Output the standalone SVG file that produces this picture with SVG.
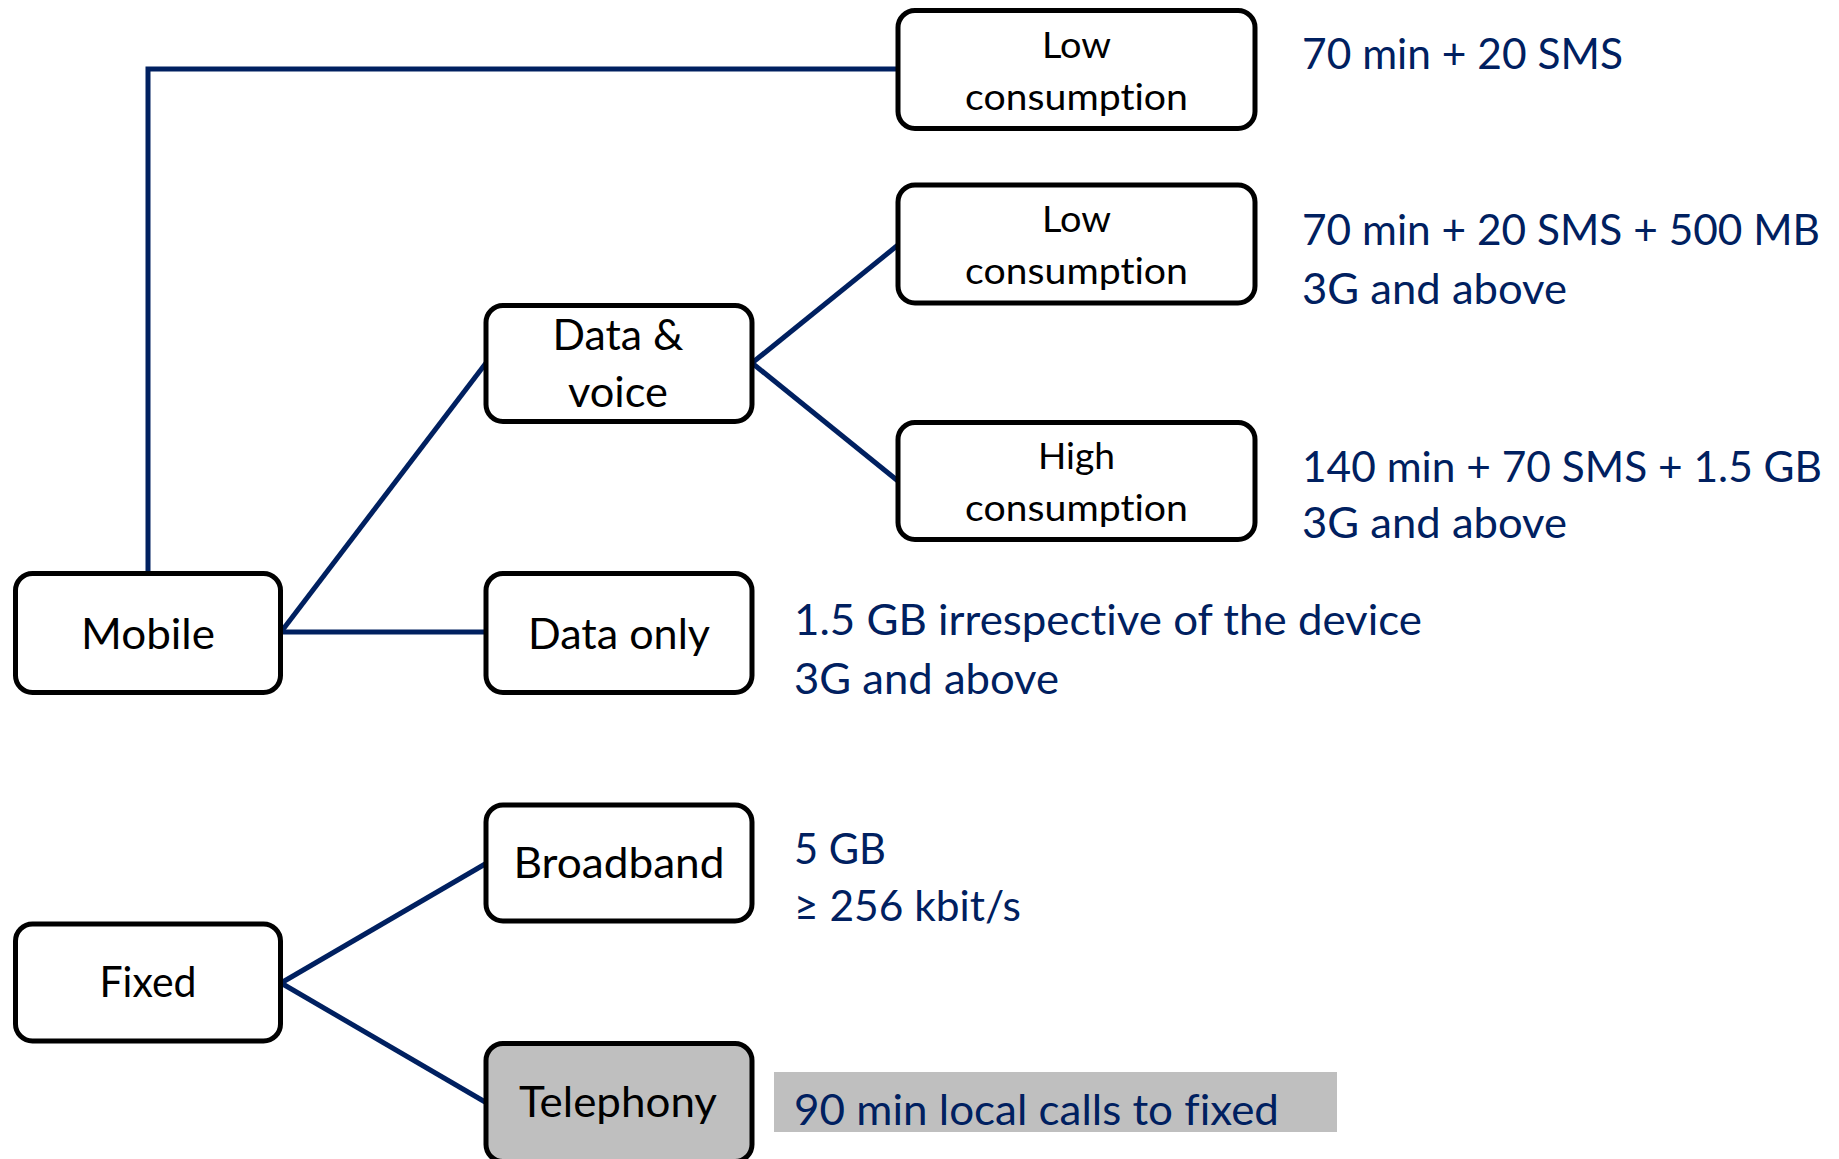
<svg xmlns="http://www.w3.org/2000/svg" width="1839" height="1159" viewBox="0 0 1839 1159">
<style>
.box{fill:#ffffff;stroke:#000000;stroke-width:5}
.gray{fill:#bfbfbf}
.lbl{font-family:Lato,"Open Sans","Liberation Sans",sans-serif;fill:#000000;text-anchor:middle;font-variant-ligatures:none}
.big{font-size:42px}
.small{font-size:37px}
.info{font-family:Lato,"Open Sans","Liberation Sans",sans-serif;font-size:43px;fill:#002060;font-variant-ligatures:none}
.conn{fill:none;stroke:#002060;stroke-width:5}
</style>
<rect width="1839" height="1159" fill="#ffffff"/>
<g id="connectors">
<path class="conn" d="M148,574 V69 H898"/>
<path class="conn" d="M281,632 L486,363"/>
<path class="conn" d="M281,632 H486"/>
<path class="conn" d="M752,363 L898,245"/>
<path class="conn" d="M752,363 L898,481"/>
<path class="conn" d="M281,983 L486,863.5"/>
<path class="conn" d="M281,983 L486,1102.5"/>
</g>
<g id="mobile">
<rect class="box" x="15.5" y="573.5" width="265" height="119" rx="17"/>
<text class="lbl big" x="148" y="649" textLength="134" lengthAdjust="spacingAndGlyphs">Mobile</text>
</g>
<g id="fixed">
<rect class="box" x="15.5" y="924" width="265" height="117" rx="17"/>
<text class="lbl big" x="148" y="997" textLength="97" lengthAdjust="spacingAndGlyphs">Fixed</text>
</g>
<g id="data-voice">
<rect class="box" x="486" y="305.5" width="266" height="116" rx="17"/>
<text class="lbl big" x="618" y="350" textLength="131" lengthAdjust="spacingAndGlyphs">Data &amp;</text>
<text class="lbl big" x="618" y="407" textLength="100" lengthAdjust="spacingAndGlyphs">voice</text>
</g>
<g id="data-only">
<rect class="box" x="486" y="573.5" width="266" height="119" rx="17"/>
<text class="lbl big" x="619" y="649" textLength="182" lengthAdjust="spacingAndGlyphs">Data only</text>
</g>
<g id="broadband">
<rect class="box" x="486" y="805" width="266" height="116" rx="17"/>
<text class="lbl big" x="619" y="878" textLength="211" lengthAdjust="spacingAndGlyphs">Broadband</text>
</g>
<g id="telephony">
<rect class="box" x="486" y="1043.5" width="266" height="118" rx="17" style="fill:#bfbfbf"/>
<text class="lbl big" x="618" y="1117" textLength="198" lengthAdjust="spacingAndGlyphs">Telephony</text>
</g>
<g id="low1">
<rect class="box" x="898" y="10.5" width="357" height="118" rx="17"/>
<text class="lbl small" x="1076.5" y="58" textLength="69" lengthAdjust="spacingAndGlyphs">Low</text>
<text class="lbl small" x="1076.5" y="109.5" textLength="223" lengthAdjust="spacingAndGlyphs">consumption</text>
</g>
<g id="low2">
<rect class="box" x="898" y="185" width="357" height="118" rx="17"/>
<text class="lbl small" x="1076.5" y="231.5" textLength="69" lengthAdjust="spacingAndGlyphs">Low</text>
<text class="lbl small" x="1076.5" y="283.5" textLength="223" lengthAdjust="spacingAndGlyphs">consumption</text>
</g>
<g id="high">
<rect class="box" x="898" y="422.5" width="357" height="117" rx="17"/>
<text class="lbl small" x="1076.5" y="469" textLength="77" lengthAdjust="spacingAndGlyphs">High</text>
<text class="lbl small" x="1076.5" y="520.5" textLength="223" lengthAdjust="spacingAndGlyphs">consumption</text>
</g>
<g id="info">
<text class="info" x="1302" y="69" textLength="321" lengthAdjust="spacingAndGlyphs">70 min + 20 SMS</text>
<text class="info" x="1302" y="245" textLength="518" lengthAdjust="spacingAndGlyphs">70 min + 20 SMS + 500 MB</text>
<text class="info" x="1302" y="303.5" textLength="265" lengthAdjust="spacingAndGlyphs">3G and above</text>
<text class="info" x="1302" y="481.5" textLength="520" lengthAdjust="spacingAndGlyphs">140 min + 70 SMS + 1.5 GB</text>
<text class="info" x="1302" y="538" textLength="265" lengthAdjust="spacingAndGlyphs">3G and above</text>
<text class="info" x="794" y="634.5" textLength="628" lengthAdjust="spacingAndGlyphs">1.5 GB irrespective of the device</text>
<text class="info" x="794" y="693.5" textLength="265" lengthAdjust="spacingAndGlyphs">3G and above</text>
<text class="info" x="794" y="863.5" textLength="92" lengthAdjust="spacingAndGlyphs">5 GB</text>
<text class="info" x="794" y="921" textLength="227" lengthAdjust="spacingAndGlyphs">≥ 256 kbit/s</text>
<rect class="gray" x="774" y="1072" width="563" height="60"/>
<text class="info" x="794" y="1125" textLength="485" lengthAdjust="spacingAndGlyphs">90 min local calls to fixed</text>
</g>
</svg>
